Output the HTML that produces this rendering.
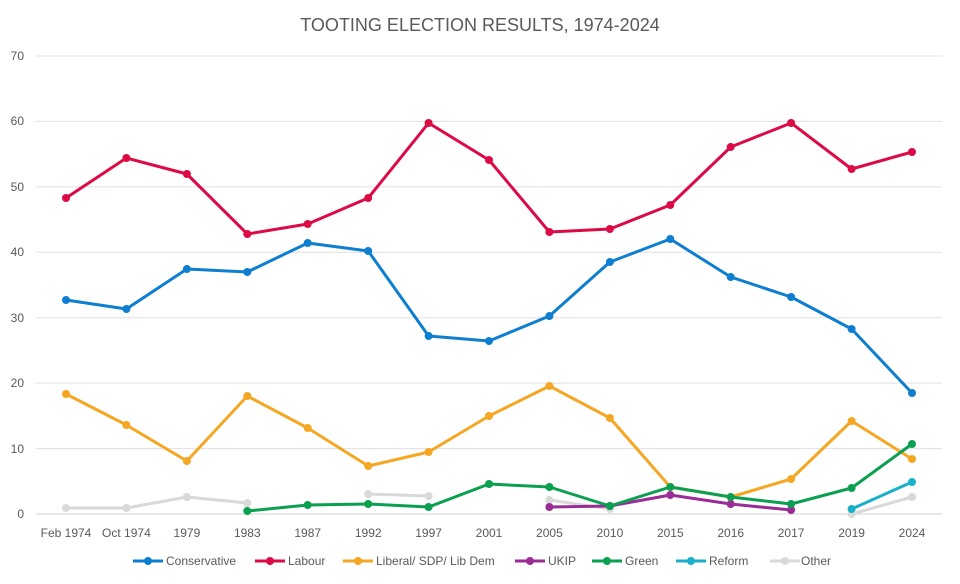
<!DOCTYPE html><html><head><style>body{margin:0;background:#fff}svg{display:block;font-family:"Liberation Sans",sans-serif}</style></head><body>
<svg width="960" height="584" viewBox="0 0 960 584">
<rect width="960" height="584" fill="#fff"/>
<text x="480" y="31" text-anchor="middle" font-size="18" fill="#595959">TOOTING ELECTION RESULTS, 1974-2024</text>
<g stroke="#e0e0e0" stroke-width="1">
<line x1="36" x2="942" y1="514" y2="514" stroke="#d0d0d0"/><line x1="36" x2="942" y1="448.6" y2="448.6"/><line x1="36" x2="942" y1="383.1" y2="383.1"/><line x1="36" x2="942" y1="317.7" y2="317.7"/><line x1="36" x2="942" y1="252.3" y2="252.3"/><line x1="36" x2="942" y1="186.9" y2="186.9"/><line x1="36" x2="942" y1="121.4" y2="121.4"/><line x1="36" x2="942" y1="56" y2="56"/>
</g>
<g font-size="12" fill="#595959" text-anchor="end">
<text x="24" y="518">0</text><text x="24" y="453">10</text><text x="24" y="387">20</text><text x="24" y="322">30</text><text x="24" y="256">40</text><text x="24" y="191">50</text><text x="24" y="125">60</text><text x="24" y="60">70</text>
</g>
<g font-size="12" fill="#595959" text-anchor="middle">
<text x="66" y="537">Feb 1974</text><text x="126.4" y="537">Oct 1974</text><text x="186.9" y="537">1979</text><text x="247.3" y="537">1983</text><text x="307.7" y="537">1987</text><text x="368.2" y="537">1992</text><text x="428.6" y="537">1997</text><text x="489" y="537">2001</text><text x="549.4" y="537">2005</text><text x="609.9" y="537">2010</text><text x="670.3" y="537">2015</text><text x="730.7" y="537">2016</text><text x="791.1" y="537">2017</text><text x="851.6" y="537">2019</text><text x="912" y="537">2024</text>
</g>
<g fill="none" stroke-width="3" stroke-linejoin="round">
<polyline stroke="#d9d9d9" points="66,508 126.4,508 186.9,497 247.3,503"/>
<polyline stroke="#d9d9d9" points="368.2,494 428.6,496"/>
<polyline stroke="#d9d9d9" points="549.4,500 609.9,509"/>
<polyline stroke="#d9d9d9" points="851.6,514 912,497"/>
<polyline stroke="#0e7fd0" points="66,300 126.4,309 186.9,269 247.3,272 307.7,243 368.2,251 428.6,336 489,341 549.4,316 609.9,262 670.3,239 730.7,277 791.1,297 851.6,329 912,393"/>
<polyline stroke="#dc0a45" points="66,198 126.4,158 186.9,174 247.3,234 307.7,224 368.2,198 428.6,123 489,160 549.4,232 609.9,229 670.3,205 730.7,147 791.1,123 851.6,169 912,152"/>
<polyline stroke="#f5a623" points="66,394 126.4,425 186.9,461 247.3,396 307.7,428 368.2,466 428.6,452 489,416 549.4,386 609.9,418 670.3,487 730.7,497 791.1,479 851.6,421 912,459"/>
<polyline stroke="#9b2c96" points="549.4,507 609.9,506 670.3,495 730.7,504 791.1,510"/>
<polyline stroke="#0aa050" points="247.3,511 307.7,505 368.2,504 428.6,507 489,484 549.4,487 609.9,506 670.3,487 730.7,497 791.1,504 851.6,488 912,444"/>
<polyline stroke="#1ab0cc" points="851.6,509 912,482"/>
</g>
<g>
<g fill="#d9d9d9"><circle cx="66" cy="508" r="4"/><circle cx="126.4" cy="508" r="4"/><circle cx="186.9" cy="497" r="4"/><circle cx="247.3" cy="503" r="4"/><circle cx="368.2" cy="494" r="4"/><circle cx="428.6" cy="496" r="4"/><circle cx="549.4" cy="500" r="4"/><circle cx="609.9" cy="509" r="4"/><circle cx="730.7" cy="504" r="4"/><circle cx="851.6" cy="514" r="4"/><circle cx="912" cy="497" r="4"/></g>
<g fill="#0e7fd0"><circle cx="66" cy="300" r="4"/><circle cx="126.4" cy="309" r="4"/><circle cx="186.9" cy="269" r="4"/><circle cx="247.3" cy="272" r="4"/><circle cx="307.7" cy="243" r="4"/><circle cx="368.2" cy="251" r="4"/><circle cx="428.6" cy="336" r="4"/><circle cx="489" cy="341" r="4"/><circle cx="549.4" cy="316" r="4"/><circle cx="609.9" cy="262" r="4"/><circle cx="670.3" cy="239" r="4"/><circle cx="730.7" cy="277" r="4"/><circle cx="791.1" cy="297" r="4"/><circle cx="851.6" cy="329" r="4"/><circle cx="912" cy="393" r="4"/></g>
<g fill="#dc0a45"><circle cx="66" cy="198" r="4"/><circle cx="126.4" cy="158" r="4"/><circle cx="186.9" cy="174" r="4"/><circle cx="247.3" cy="234" r="4"/><circle cx="307.7" cy="224" r="4"/><circle cx="368.2" cy="198" r="4"/><circle cx="428.6" cy="123" r="4"/><circle cx="489" cy="160" r="4"/><circle cx="549.4" cy="232" r="4"/><circle cx="609.9" cy="229" r="4"/><circle cx="670.3" cy="205" r="4"/><circle cx="730.7" cy="147" r="4"/><circle cx="791.1" cy="123" r="4"/><circle cx="851.6" cy="169" r="4"/><circle cx="912" cy="152" r="4"/></g>
<g fill="#f5a623"><circle cx="66" cy="394" r="4"/><circle cx="126.4" cy="425" r="4"/><circle cx="186.9" cy="461" r="4"/><circle cx="247.3" cy="396" r="4"/><circle cx="307.7" cy="428" r="4"/><circle cx="368.2" cy="466" r="4"/><circle cx="428.6" cy="452" r="4"/><circle cx="489" cy="416" r="4"/><circle cx="549.4" cy="386" r="4"/><circle cx="609.9" cy="418" r="4"/><circle cx="670.3" cy="487" r="4"/><circle cx="730.7" cy="497" r="4"/><circle cx="791.1" cy="479" r="4"/><circle cx="851.6" cy="421" r="4"/><circle cx="912" cy="459" r="4"/></g>
<g fill="#9b2c96"><circle cx="549.4" cy="507" r="4"/><circle cx="609.9" cy="506" r="4"/><circle cx="670.3" cy="495" r="4"/><circle cx="730.7" cy="504" r="4"/><circle cx="791.1" cy="510" r="4"/></g>
<g fill="#0aa050"><circle cx="247.3" cy="511" r="4"/><circle cx="307.7" cy="505" r="4"/><circle cx="368.2" cy="504" r="4"/><circle cx="428.6" cy="507" r="4"/><circle cx="489" cy="484" r="4"/><circle cx="549.4" cy="487" r="4"/><circle cx="609.9" cy="506" r="4"/><circle cx="670.3" cy="487" r="4"/><circle cx="730.7" cy="497" r="4"/><circle cx="791.1" cy="504" r="4"/><circle cx="851.6" cy="488" r="4"/><circle cx="912" cy="444" r="4"/></g>
<g fill="#1ab0cc"><circle cx="851.6" cy="509" r="4"/><circle cx="912" cy="482" r="4"/></g>
</g>
<g font-size="12" fill="#595959" stroke-width="3">
<line x1="133" x2="163" y1="561" y2="561" stroke="#0e7fd0"/><circle cx="148" cy="561" r="4" fill="#0e7fd0"/><text x="166" y="565">Conservative</text>
<line x1="255" x2="285" y1="561" y2="561" stroke="#dc0a45"/><circle cx="270" cy="561" r="4" fill="#dc0a45"/><text x="288" y="565">Labour</text>
<line x1="343" x2="373" y1="561" y2="561" stroke="#f5a623"/><circle cx="358" cy="561" r="4" fill="#f5a623"/><text x="376" y="565">Liberal/ SDP/ Lib  Dem</text>
<line x1="515" x2="545" y1="561" y2="561" stroke="#9b2c96"/><circle cx="530" cy="561" r="4" fill="#9b2c96"/><text x="548" y="565">UKIP</text>
<line x1="592" x2="622" y1="561" y2="561" stroke="#0aa050"/><circle cx="607" cy="561" r="4" fill="#0aa050"/><text x="625" y="565">Green</text>
<line x1="676" x2="706" y1="561" y2="561" stroke="#1ab0cc"/><circle cx="691" cy="561" r="4" fill="#1ab0cc"/><text x="709" y="565">Reform</text>
<line x1="770" x2="800" y1="561" y2="561" stroke="#d9d9d9"/><circle cx="785" cy="561" r="4" fill="#d9d9d9"/><text x="801" y="565">Other</text>
</g>
</svg></body></html>
